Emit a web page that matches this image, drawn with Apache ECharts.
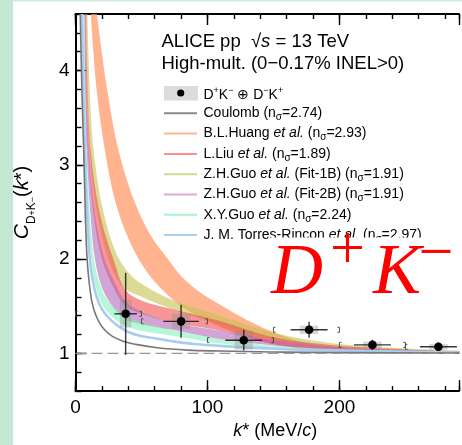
<!DOCTYPE html>
<html><head><meta charset="utf-8">
<script src="https://cdn.jsdelivr.net/npm/echarts@6/dist/echarts.min.js"></script>
<style>html,body{margin:0;padding:0;background:#fff}#c{width:462px;height:445px}</style>
</head><body><div id="c"></div>
<script>
// ---- measured data (k* in MeV/c, C(k*)) ----
const kStar   = [38, 80, 127.5, 177, 225, 275];
const cVal    = [1.42, 1.34, 1.14, 1.25, 1.09, 1.07];
const kErr    = [8.5, 13.5, 14, 14, 14, 14];
const statErr = [0.435, 0.175, 0.11, 0.085, 0.055, 0.045];
const sysK    = [4.4, 7, 7, 7, 7, 7];
const sysErr  = [0.145, 0.08, 0.1, 0.045, 0.035, 0.03];
const binLo   = [0, 50, 100, 150, 200, 250];
const binHi   = [50, 100, 150, 200, 250, 300];

// ---- theory curves / bands: [k*, C] ----
const coulomb = [[3.6,4.6],[5,3.7],[6.2,3.16],[7.5,2.45],[8.6,2.05],[10,1.8],[12.4,1.55],[15,1.42],[18,1.33],[22,1.25],[28,1.18],[36,1.13],[48,1.09],[62,1.06],[85,1.035],[110,1.025],[150,1.015],[200,1.008],[291,1.003]];
const torres  = [[5,4.6],[6,3.8],[7,3.16],[9,2.45],[10.9,2.0],[13,1.78],[16,1.6],[20,1.47],[27,1.35],[38,1.24],[48,1.19],[60,1.16],[73,1.13],[90,1.1],[110,1.08],[150,1.05],[200,1.03],[291,1.01]];
const xyGuoLo = [[6,4.6],[7.5,3.16],[9.5,2.45],[12,2.0],[15,1.72],[20,1.52],[27,1.4],[38,1.29],[50,1.24],[73,1.19],[110,1.105],[150,1.06],[200,1.03],[291,1.01]];
const xyGuoHi = [[6.6,4.6],[8.5,3.16],[11,2.45],[14,2.0],[18,1.75],[25,1.55],[38,1.4],[50,1.33],[73,1.25],[110,1.15],[150,1.08],[200,1.045],[291,1.015]];
const fit2BLo = [[6.6,4.6],[8.5,3.16],[11.5,2.45],[14.7,2.0],[20,1.7],[28,1.5],[38,1.36],[50,1.31],[73,1.25],[110,1.15],[150,1.085],[200,1.04],[291,1.012]];
const fit2BHi = [[7.5,4.6],[10,3.16],[15,2.45],[22,2.0],[28,1.8],[38,1.55],[50,1.44],[73,1.33],[110,1.24],[150,1.14],[200,1.065],[291,1.02]];
const liuLo   = [[7.2,4.6],[9.5,3.16],[14,2.45],[20,2.0],[28,1.72],[38,1.5],[50,1.42],[73,1.33],[110,1.24],[150,1.1],[200,1.04],[291,1.01]];
const liuHi   = [[8.2,4.6],[11.5,3.16],[19,2.45],[28.7,2.0],[38,1.67],[50,1.56],[73,1.47],[110,1.34],[150,1.17],[200,1.08],[291,1.02]];
const fit1BLo = [[8,4.6],[11,3.16],[17,2.45],[25,2.0],[32,1.78],[38,1.68],[50,1.6],[73,1.47],[110,1.3],[150,1.15],[200,1.06],[291,1.01]];
const fit1BHi = [[9,4.6],[13.7,3.16],[22,2.45],[33,2.0],[42,1.83],[50,1.74],[73,1.57],[110,1.4],[150,1.22],[200,1.1],[291,1.03]];
const huangLo = [[11.6,4.6],[16,3.8],[22.2,3.16],[30,2.62],[40,2.22],[50,1.95],[60,1.76],[70,1.62],[80,1.5],[95,1.38],[110,1.28],[125,1.2],[140,1.13],[170,1.05],[200,1.02],[291,1.0]];
const huangHi = [[16.2,4.6],[24,3.8],[32.5,3.16],[45,2.6],[57,2.25],[70,2.0],[80,1.82],[94,1.65],[109,1.52],[125,1.39],[144,1.26],[170,1.13],[194,1.07],[230,1.03],[291,1.01]];

// ---- ticks / labels ----
const xMajor = [0, 100, 200];
const yMajor = [1, 2, 3, 4];
const theoryAuthor = ['B.L.Huang', 'L.Liu', 'Z.H.Guo', 'Z.H.Guo', 'X.Y.Guo', 'J. M. Torres-Rincon'];
const theoryFit    = ['', '', ' (Fit-1B)', ' (Fit-2B)', '', ''];
const theoryNsig   = ['2.93', '1.89', '1.91', '1.91', '2.24', '2.97'];
const coulombNsig  = '2.74';

const F = '"Liberation Sans", Arial, sans-serif';
const SERIF = '"Liberation Serif", "Times New Roman", serif';
const bandColors = ['rgba(255,150,100,0.72)', 'rgba(195,195,80,0.6)', 'rgba(240,80,80,0.6)', 'rgba(180,105,185,0.6)', 'rgba(120,240,180,0.55)'];
const legendLineColors = ['#ffb696', '#ff8e8e', '#d6d68e', '#dcaadc', '#aaf2cc', '#aacff2'];

// centripetal Catmull-Rom path through pixel points (smooth drawing only)
function crPath(pts, moveFirst) {
  let d = (moveFirst ? 'M' : 'L') + pts[0][0] + ' ' + pts[0][1];
  const n = pts.length;
  for (let i = 0; i < n - 1; i++) {
    const p0 = pts[Math.max(i - 1, 0)], p1 = pts[i], p2 = pts[i + 1], p3 = pts[Math.min(i + 2, n - 1)];
    const l01 = Math.hypot(p1[0] - p0[0], p1[1] - p0[1]), l12 = Math.hypot(p2[0] - p1[0], p2[1] - p1[1]), l23 = Math.hypot(p3[0] - p2[0], p3[1] - p2[1]);
    const l01a = Math.sqrt(l01), l12a = Math.sqrt(l12), l23a = Math.sqrt(l23);
    let c1x = p1[0], c1y = p1[1], c2x = p2[0], c2y = p2[1];
    if (l01a > 1e-6) {
      const a = 2 * l01 + 3 * l01a * l12a + l12, nn = 3 * l01a * (l01a + l12a);
      c1x = (p1[0] * a - p0[0] * l12 + p2[0] * l01) / nn;
      c1y = (p1[1] * a - p0[1] * l12 + p2[1] * l01) / nn;
    }
    if (l23a > 1e-6) {
      const b = 2 * l23 + 3 * l23a * l12a + l12, m = 3 * l23a * (l23a + l12a);
      c2x = (p2[0] * b + p1[0] * l23 - p3[0] * l12) / m;
      c2y = (p2[1] * b + p1[1] * l23 - p3[1] * l12) / m;
    }
    d += ' C' + c1x + ' ' + c1y + ' ' + c2x + ' ' + c2y + ' ' + p2[0] + ' ' + p2[1];
  }
  return d;
}

function band(lo, hi, color, z) {
  return {
    type: 'custom', coordinateSystem: 'cartesian2d', silent: true, z: z, clip: true,
    data: [[100, 1]],
    renderItem: function (params, api) {
      const ph = hi.map(p => api.coord(p));
      const pl = lo.slice().reverse().map(p => api.coord(p));
      const d = crPath(ph, true) + ' ' + crPath(pl, false) + ' Z';
      return { type: 'path', shape: { pathData: d }, style: { fill: color } };
    }
  };
}
function curve(pts, color, width, z) {
  return {
    type: 'custom', coordinateSystem: 'cartesian2d', silent: true, z: z, clip: true,
    data: [[100, 1]],
    renderItem: function (params, api) {
      return { type: 'path', shape: { pathData: crPath(pts.map(p => api.coord(p)), true) }, style: { fill: null, stroke: color, lineWidth: width } };
    }
  };
}

const chart = echarts.init(document.getElementById('c'));
const axisCol = '#000';
const tickStyle = { color: axisCol, width: 1.4 };

const rows = [113.3, 133.6, 153.9, 174.2, 194.5, 214.8, 235.1];
const legRich = {
  n: { fontSize: 14, fontFamily: F, color: '#111', lineHeight: 18, verticalAlign: 'middle' },
  i: { fontSize: 14, fontFamily: F, color: '#111', fontStyle: 'italic', lineHeight: 18, verticalAlign: 'middle' },
  sub: { fontSize: 10, fontFamily: F, color: '#111', lineHeight: 1, verticalAlign: 'bottom' },
  sp: { fontSize: 9, fontFamily: F, color: '#111', lineHeight: 9, verticalAlign: 'top' }
};
const graphics = [];
graphics.push({ type: 'rect', z: 1, shape: { x: 0, y: 0, width: 13, height: 445 }, style: { fill: '#c3e8d3' }, silent: true });
graphics.push({ type: 'rect', z: 1, shape: { x: 13, y: 0, width: 449, height: 1.5 }, style: { fill: '#d3ece0' }, silent: true });
graphics.push({ type: 'text', z: 100, x: 161.5, y: 42, style: { text: '{n|ALICE pp  √}{i|s}{n| = 13 TeV}', rich: {
  n: { fontSize: 18.5, fontFamily: F, color: '#000' }, i: { fontSize: 18.5, fontFamily: F, fontStyle: 'italic', color: '#000' } }, verticalAlign: 'middle' } });
graphics.push({ type: 'text', z: 100, x: 161.5, y: 63.5, style: { text: 'High-mult. (0\u22120.17% INEL>0)', font: '18.5px ' + F, fill: '#000', verticalAlign: 'middle' } });
graphics.push({ type: 'rect', z: 100, shape: { x: 164, y: 86, width: 34, height: 14.5 }, style: { fill: '#dcdcdc' } });
graphics.push({ type: 'circle', z: 101, shape: { cx: 180.7, cy: 93, r: 3.6 }, style: { fill: '#000' } });
graphics.push({ type: 'text', z: 100, x: 203.5, y: 95, style: { text: '{n|D}{sp|+}{n|K}{sp|\u2212}{n| \u2295 D}{sp|\u2212}{n|K}{sp|+}', rich: legRich, verticalAlign: 'middle' } });
graphics.push({ type: 'line', z: 100, shape: { x1: 164, y1: rows[0], x2: 197, y2: rows[0] }, style: { stroke: '#8a8a8a', lineWidth: 2 } });
graphics.push({ type: 'text', z: 100, x: 203.5, y: rows[0], style: { text: '{n|Coulomb (n}{sub|σ}{n|=' + coulombNsig + ')}', rich: legRich, verticalAlign: 'middle' } });
for (let j = 0; j < theoryAuthor.length; j++) {
  const y = rows[j + 1];
  graphics.push({ type: 'line', z: 100, shape: { x1: 164, y1: y, x2: 197, y2: y }, style: { stroke: legendLineColors[j], lineWidth: 2 } });
  graphics.push({ type: 'text', z: 100, x: 203.5, y: y, style: { text: '{n|' + theoryAuthor[j] + ' }{i|et al.}{n|' + theoryFit[j] + ' (n}{sub|σ}{n|=' + theoryNsig[j] + ')}', rich: legRich, verticalAlign: 'middle' } });
}
// big label with white backing
graphics.push({ type: 'rect', z: 110, shape: { x: 270, y: 237.5, width: 192, height: 64 }, style: { fill: '#fff' } });
graphics.push({ type: 'text', z: 111, x: 271, y: 274, style: { text: 'D', font: 'italic 72px ' + SERIF, fill: '#ff0000', verticalAlign: 'middle' } });
graphics.push({ type: 'text', z: 111, x: 347.5, y: 252, style: { text: '+', font: '62px ' + SERIF, fill: '#ff0000', align: 'center', verticalAlign: 'middle' } });
graphics.push({ type: 'text', z: 111, x: 373, y: 274, style: { text: 'K', font: 'italic 72px ' + SERIF, fill: '#ff0000', verticalAlign: 'middle' } });
graphics.push({ type: 'text', z: 111, x: 436, y: 256, style: { text: '\u2212', font: '62px ' + SERIF, fill: '#ff0000', align: 'center', verticalAlign: 'middle' } });

const xBase = { min: 0, max: 290.6, type: 'value', splitLine: { show: false } };
const yBase = { min: 0.6, max: 4.6, type: 'value', splitLine: { show: false } };

chart.setOption({
  animation: false,
  backgroundColor: '#fff',
  grid: { left: 75.5, right: 0, top: 14, bottom: 53, containLabel: false },
  xAxis: [
    Object.assign({}, xBase, { position: 'bottom', interval: 20,
      axisLine: { show: true, onZero: false, lineStyle: { color: axisCol, width: 2 } },
      axisTick: { inside: true, length: 5, lineStyle: tickStyle },
      axisLabel: { margin: 7, fontSize: 19, fontFamily: F, color: '#000', formatter: v => (xMajor.indexOf(Math.round(v)) >= 0 && Math.abs(v - Math.round(v)) < 1e-6) ? String(Math.round(v)) : '' },
      name: '{i|k}{n|* (MeV/}{i|c}{n|)}', nameLocation: 'middle', nameGap: 26,
      nameTextStyle: { padding: [0, 0, 0, 16], rich: {
        i: { fontSize: 18, fontFamily: F, fontStyle: 'italic', color: '#000' },
        n: { fontSize: 18, fontFamily: F, color: '#000' } } } }),
    Object.assign({}, xBase, { position: 'bottom', interval: 100,
      axisLine: { show: false, onZero: false }, axisTick: { inside: true, length: 11, lineStyle: tickStyle }, axisLabel: { show: false } }),
    Object.assign({}, xBase, { position: 'top', interval: 20,
      axisLine: { show: true, onZero: false, lineStyle: { color: axisCol, width: 2 } },
      axisTick: { inside: true, length: 5, lineStyle: tickStyle }, axisLabel: { show: false } }),
    Object.assign({}, xBase, { position: 'top', interval: 100,
      axisLine: { show: false, onZero: false }, axisTick: { inside: true, length: 11, lineStyle: tickStyle }, axisLabel: { show: false } })
  ],
  yAxis: [
    Object.assign({}, yBase, { position: 'left', interval: 0.2,
      axisLine: { show: true, onZero: false, lineStyle: { color: axisCol, width: 2 } },
      axisTick: { inside: true, length: 6, lineStyle: tickStyle }, axisLabel: { show: false },
      name: '{c|C}{s|D}{u|+}{s|K}{u|\u2212}{p|(}{i|k}{p|*)}', nameLocation: 'middle', nameGap: 38, nameRotate: 90,
      nameTextStyle: { rich: {
        c: { fontSize: 21, fontFamily: F, fontStyle: 'italic', color: '#000', lineHeight: 30, verticalAlign: 'middle' },
        s: { fontSize: 12, fontFamily: F, color: '#000', lineHeight: 12, verticalAlign: 'bottom' },
        u: { fontSize: 9, fontFamily: F, color: '#000', lineHeight: 22, verticalAlign: 'bottom' },
        p: { fontSize: 20, fontFamily: F, color: '#000', lineHeight: 30, verticalAlign: 'middle' },
        i: { fontSize: 20, fontFamily: F, fontStyle: 'italic', color: '#000', lineHeight: 30, verticalAlign: 'middle' } } } }),
    Object.assign({}, yBase, { position: 'left',
      axisLine: { show: false, onZero: false },
      axisTick: { inside: true, length: 11, lineStyle: tickStyle, customValues: yMajor },
      axisLabel: { margin: 6, fontSize: 19, fontFamily: F, color: '#000', customValues: yMajor, formatter: v => String(Math.round(v)) } })
  ],
  series: [
    band(huangLo, huangHi, bandColors[0], 2),
    band(fit1BLo, fit1BHi, bandColors[1], 3),
    band(liuLo, liuHi, bandColors[2], 4),
    band(fit2BLo, fit2BHi, bandColors[3], 5),
    band(xyGuoLo, xyGuoHi, bandColors[4], 6),
    curve(torres, '#a9cdf0', 2.6, 7),
    curve(coulomb, '#777', 1.6, 8),
    { type: 'line', data: [[0, 1], [290.6, 1]], showSymbol: false, z: 8, silent: true,
      lineStyle: { color: '#999', type: [11, 5], width: 1.3 } },
    {
      type: 'custom', z: 10, clip: true, silent: true,
      data: kStar.map((k, i) => [k, cVal[i], kErr[i], statErr[i], sysK[i], sysErr[i], binLo[i], binHi[i]]),
      encode: { x: 0, y: 1 },
      renderItem: function (params, api) {
        const k = api.value(0), c = api.value(1), ke = api.value(2), se = api.value(3), sk = api.value(4), sy = api.value(5), bl = api.value(6), bh = api.value(7);
        const p = api.coord([k, c]);
        const b1 = api.coord([k - sk, c + sy]), b2 = api.coord([k + sk, c - sy]);
        const h1 = api.coord([k - ke, c]), h2 = api.coord([k + ke, c]);
        const v1 = api.coord([k, c + se]), v2 = api.coord([k, c - se]);
        const L = api.coord([bl, c]), R = api.coord([bh, c]);
        const ln = 'rgba(20,20,20,0.85)';
        return { type: 'group', children: [
          { type: 'rect', shape: { x: b1[0], y: b1[1], width: b2[0] - b1[0], height: b2[1] - b1[1] }, style: { fill: 'rgba(140,140,140,0.35)' } },
          { type: 'line', shape: { x1: h1[0], y1: h1[1], x2: h2[0], y2: h2[1] }, style: { stroke: ln, lineWidth: 1.4 } },
          { type: 'line', shape: { x1: v1[0], y1: v1[1], x2: v2[0], y2: v2[1] }, style: { stroke: ln, lineWidth: 1.4 } },
          { type: 'polyline', shape: { points: [[L[0] + 2, L[1] - 2.5], [L[0], L[1] - 2.5], [L[0], L[1] + 2.5], [L[0] + 2, L[1] + 2.5]] }, style: { stroke: '#444', lineWidth: 0.9, fill: null } },
          { type: 'polyline', shape: { points: [[R[0] - 2, R[1] - 2.5], [R[0], R[1] - 2.5], [R[0], R[1] + 2.5], [R[0] - 2, R[1] + 2.5]] }, style: { stroke: '#444', lineWidth: 0.9, fill: null } },
          { type: 'circle', shape: { cx: p[0], cy: p[1], r: 4.3 }, style: { fill: '#000' } }
        ] };
      }
    }
  ],
  graphic: graphics
});
</script></body></html>
